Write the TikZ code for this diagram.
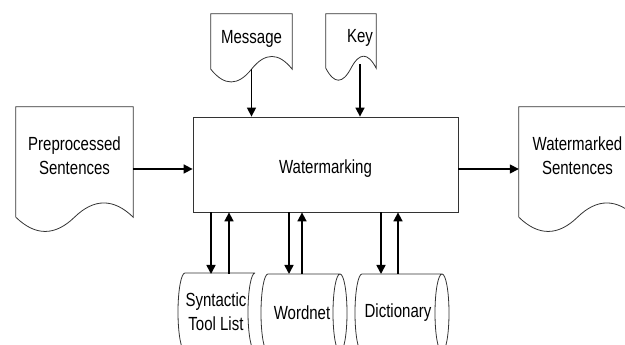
\documentclass[tikz,border=0pt]{standalone}
\usepackage{fontspec}
\setmainfont{Liberation Sans}[FakeStretch=0.79]
\usetikzlibrary{arrows.meta, calc}

\tikzset{
	rim/.style = {draw = black!80, line width = 0.8pt},
	doc/.style = {align = center, inner sep = 0pt, text depth = 12pt},
	store/.style = {align = center, inner sep = 0pt, minimum height = 78pt},
	flow/.style = {line width = 1.6pt, -{Triangle[length = 9pt, width = 9pt]}}
}

% outline of a document: node name, wave depth
\newcommand{\docshape}[2]{%
	\draw [rim] (#1.south west) to (#1.north west) to (#1.north east) to (#1.south east)
		.. controls ($(#1.south east)!0.333!(#1.south) + (0, #2)$) and ($(#1.south east)!0.667!(#1.south) + (0, #2)$) .. (#1.south)
		.. controls ($(#1.south)!0.333!(#1.south west) - (0, #2)$) and ($(#1.south)!0.667!(#1.south west) - (0, #2)$) .. (#1.south west);
}
% outline of a drum round its text: node name, left reach, right reach
\newcommand{\drumshape}[3]{%
	\draw [rim] ($(#1) + (#3, 39)$) to ($(#1) + (-#2, 39)$) arc [start angle = 90, end angle = 270, x radius = 7pt, y radius = 39pt]
		to ($(#1) + (#3, -39)$) arc [start angle = 270, end angle = 90, x radius = 7pt, y radius = 39pt];
}
% front rim of a drum's end: node name, right reach
\newcommand{\drumend}[2]{%
	\draw [rim] ($(#1) + (#2, -39)$) arc [start angle = -90, end angle = 90, x radius = 7pt, y radius = 39pt];
}

\begin{document}
\begin{tikzpicture}[x = 1pt, y = 1pt, font = \fontsize{19}{24}\selectfont]
		\useasboundingbox (0, 0) rectangle (625, 345);
		%%%%%%%%%%%%%
		\node (wm) [rim, minimum width = 265pt, minimum height = 95pt, text height = 21pt] at (325.5, 180.5) {Watermarking};
		\node (pre) [doc, minimum width = 117pt, minimum height = 110pt] at (74.5, 183) {Preprocessed\\Sentences};
		\node (out) [doc, minimum width = 117pt, minimum height = 110pt] at (577.5, 183) {Watermarked\\Sentences};
		\node (msg) [doc, minimum width = 81pt, minimum height = 55pt, text depth = 10pt] at (251.5, 303.5) {Message};
		\node (key) [doc, minimum width = 50pt, minimum height = 54pt, text depth = 10pt] at (351, 304) {\hspace*{18pt}Key};
		\node (syn) [store] at (216, 33) {Syntactic\\Tool List};
		\node (wn) [store] at (302, 32) {Wordnet};
		\node (dic) [store] at (398, 32) {Dictionary};
		%%%%%%%%%%%%%
		\docshape{pre}{19} \docshape{out}{19}
		\docshape{msg}{17} \docshape{key}{16}
		\drumshape{syn}{31}{39}
		\drumshape{wn}{34}{38} \drumend{wn}{38}
		\drumshape{dic}{36}{44} \drumend{dic}{44}
		%%%%%%%%%%%%%
		\draw [flow] (pre.east |- 0,176) to (wm.west |- 0,176);
		\draw [flow] (wm.east |- 0,176) to (out.west |- 0,176);
		\draw [flow] (msg.south) to (msg.south |- wm.north);
		\draw [flow] ($(360,0 |- key.south) + (0, 4)$) to (360,0 |- wm.north);
		\draw [flow] (211,0 |- wm.south) to (211,71);
		\draw [flow] (229,71) to (229,0 |- wm.south);
		\draw [flow] (289,0 |- wm.south) to (289,71);
		\draw [flow] (302,71) to (302,0 |- wm.south);
		\draw [flow] (381,0 |- wm.south) to (381,71);
		\draw [flow] (398,71) to (398,0 |- wm.south);
\end{tikzpicture}
\end{document}
